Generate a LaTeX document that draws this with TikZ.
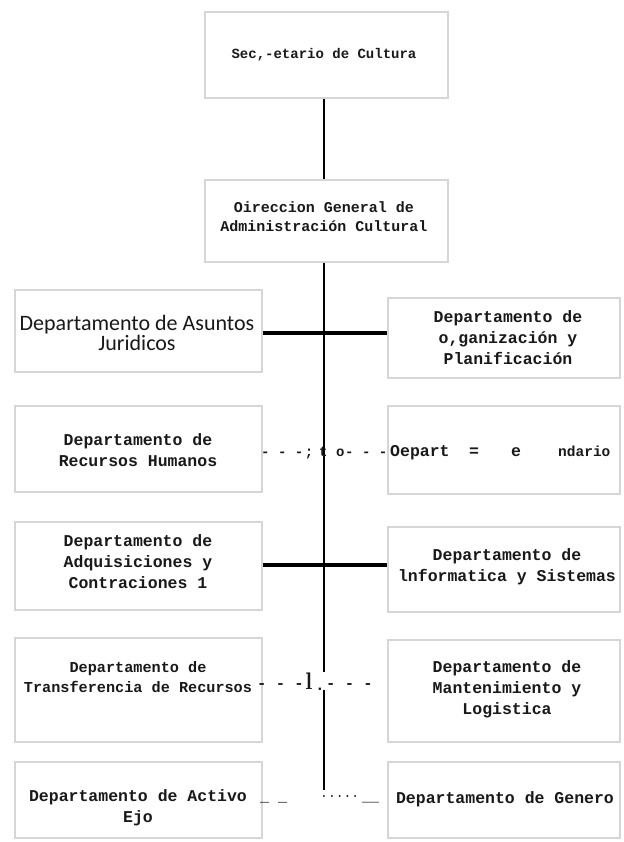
\documentclass[tikz,border=0pt]{standalone}
\usepackage{fontspec}
\newfontfamily\mono{Liberation Mono}
\newfontfamily\calib{Carlito}
\begin{document}
\begin{tikzpicture}[x=1pt,y=-1pt,
  box/.style={draw=black!16, line width=1.6pt, inner sep=0pt, fill=white},
  txt/.style={align=center, inner sep=0pt, text=black!90, font=\mono\bfseries\fontsize{16.5}{21}\selectfont},
  small/.style={inner sep=0pt, text=black!90, font=\mono\bfseries\fontsize{15}{15}\selectfont},
  vconn/.style={draw=black, line width=2.6pt},
  hconn/.style={draw=black, line width=3.2pt}]
\useasboundingbox (0,0) rectangle (623,842);
\fill[white] (0,0) rectangle (623,842);
% boxes
\node[box, minimum width=243, minimum height=86] (top) at (326.5,55) {};
\node[box, minimum width=243, minimum height=82] (dir) at (326.5,221) {};
\node[box, minimum width=247, minimum height=82] (L1) at (138.5,331) {};
\node[box, minimum width=232, minimum height=80] (R1) at (504,338) {};
\node[box, minimum width=247, minimum height=86] (L2) at (138.5,449) {};
\node[box, minimum width=232, minimum height=88] (R2) at (504,450) {};
\node[box, minimum width=247, minimum height=88] (L3) at (138.5,566) {};
\node[box, minimum width=232, minimum height=85] (R3) at (504,569.5) {};
\node[box, minimum width=247, minimum height=104] (L4) at (138.5,690) {};
\node[box, minimum width=232, minimum height=102] (R4) at (504,691) {};
\node[box, minimum width=247, minimum height=76] (L5) at (138.5,800) {};
\node[box, minimum width=232, minimum height=76] (R5) at (504,800) {};
% texts
\node[txt, font=\mono\bfseries\fontsize{14}{18}\selectfont] (tTop) at (324,55) {Sec,-etario de Cultura};
\node[txt, font=\mono\bfseries\fontsize{15}{19}\selectfont] (tDir) at (324,217) {Oireccion General de\\Administración Cultural};
\node[txt, font=\calib\fontsize{22}{20}\selectfont] (tL1) at (137,333) {Departamento de Asuntos\\Juridicos};
\node[txt] (tR1) at (508,338) {Departamento de\\o,ganización y\\Planificación};
\node[txt] (tL2) at (138,450) {Departamento de\\Recursos Humanos};
\node[txt] (tL3) at (138,562) {Departamento de\\Adquisiciones y\\Contraciones 1};
\node[txt] (tR3) at (507,567) {Departamento de\\lnformatica y Sistemas};
\node[txt, font=\mono\bfseries\fontsize{15.2}{20}\selectfont] (tL4) at (138,677) {Departamento de\\Transferencia de Recursos};
\node[txt] (tR4) at (507,689) {Departamento de\\Mantenimiento y\\Logistica};
\node[txt] (tL5) at (138,808) {Departamento de Activo\\Ejo};
\node[txt, anchor=base] (tR5) at (505,803) {Departamento de Genero};
% spine coordinates
\coordinate (spine) at (324,0);
\coordinate (c1) at (324,333);
\coordinate (c3) at (324,565);
\coordinate (gapTop) at (324,672);
\coordinate (gapBot) at (324,690);
\coordinate (vend) at (324,790);
% connectors
\draw[vconn] (top.south -| spine) -- (dir.north -| spine);
\draw[vconn] (dir.south -| spine) -- (gapTop);
\draw[vconn] (gapBot) -- (vend);
\draw[hconn] (L1.east |- c1) -- (R1.west |- c1);
\draw[hconn] (L3.east |- c3) -- (R3.west |- c3);
% row 2 garbled connector text
\node[small, anchor=base west, font=\mono\bfseries\fontsize{14}{14}\selectfont] (r2a) at (261,456) {- - -};
\node[small, anchor=base, font=\mono\bfseries\fontsize{14}{14}\selectfont] (r2s) at (309,456) {;};
\node[small, anchor=base west, font=\mono\bfseries\fontsize{14}{14}\selectfont] (r2t) at (319,456) {t o};
\node[small, anchor=base west, font=\mono\bfseries\fontsize{14}{14}\selectfont] (r2b) at (345,456) {- - -};
\node[txt, anchor=base west] (r2c) at (390,456) {Oepart};
\node[txt, anchor=base] (r2d) at (474,456) {=};
\node[txt, anchor=base] (r2e) at (516,456) {e};
\node[small, anchor=base west, font=\mono\bfseries\fontsize{14.5}{14.5}\selectfont] (r2f) at (558,456) {ndario};
% row 4 garbled connector text
\node[small, anchor=base west, font=\mono\bfseries\fontsize{15.5}{15}\selectfont] (r4a) at (257,688) {- - -};
\node[inner sep=0pt, anchor=base, text=black!90, font=\bfseries\fontsize{24}{24}\selectfont] (r4l) at (309,689) {l};
\node[inner sep=0pt, anchor=base, text=black!90, font=\mono\bfseries\fontsize{16}{16}\selectfont] (r4dot) at (320,690) {.};
\node[small, anchor=base west, font=\mono\bfseries\fontsize{15.5}{15}\selectfont] (r4b) at (326,688) {- - -};
% row 5 garbled connector text
\node[small, anchor=base west] (r5a) at (260,801) {\_ \_};
\node[small, anchor=base west, font=\mono\fontsize{13}{13}\selectfont] (r5b) at (320,797) {.....};
\node[small, anchor=base west, font=\mono\bfseries\fontsize{14}{14}\selectfont] (r5c) at (362,801) {\_\_};
\end{tikzpicture}
\end{document}
